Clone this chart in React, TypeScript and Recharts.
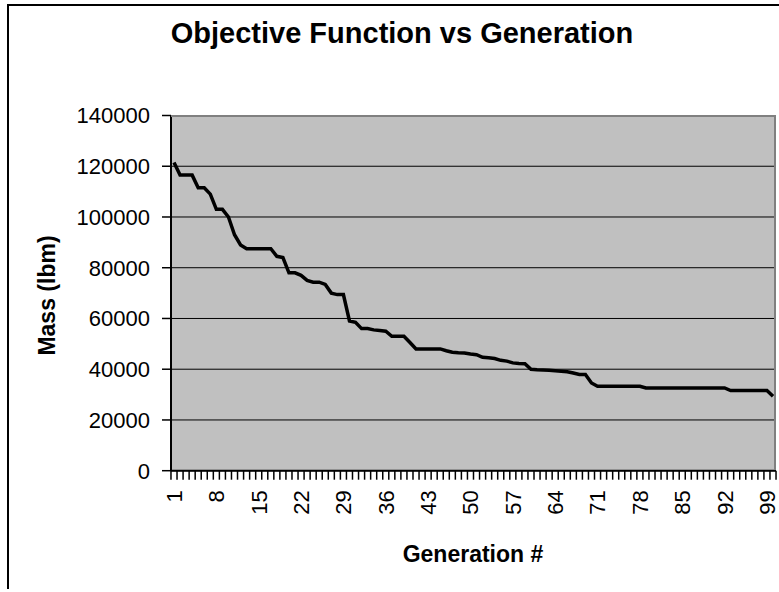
import React from 'react';
import { LineChart, Line, XAxis, YAxis, CartesianGrid } from 'recharts';

const generations = [
  1, 2, 3, 4, 5, 6, 7, 8, 9, 10, 11, 12, 13, 14, 15, 16, 17, 18, 19, 20,
  21, 22, 23, 24, 25, 26, 27, 28, 29, 30, 31, 32, 33, 34, 35, 36, 37, 38, 39, 40,
  41, 42, 43, 44, 45, 46, 47, 48, 49, 50, 51, 52, 53, 54, 55, 56, 57, 58, 59, 60,
  61, 62, 63, 64, 65, 66, 67, 68, 69, 70, 71, 72, 73, 74, 75, 76, 77, 78, 79, 80,
  81, 82, 83, 84, 85, 86, 87, 88, 89, 90, 91, 92, 93, 94, 95, 96, 97, 98, 99, 100,
];

const mass = [
  121500, 116500, 116500, 116500, 111500, 111500, 109000, 103000, 103000, 100000,
  93000, 89000, 87500, 87500, 87500, 87500, 87500, 84500, 84000, 78000,
  78000, 77000, 75000, 74300, 74300, 73400, 70000, 69400, 69400, 59000,
  58500, 56000, 56000, 55500, 55300, 55000, 53000, 53000, 53000, 50500,
  48000, 48000, 48000, 48000, 48000, 47300, 46700, 46500, 46400, 46000,
  45700, 44700, 44500, 44200, 43500, 43200, 42500, 42300, 42200, 40000,
  39800, 39700, 39600, 39400, 39200, 39000, 38500, 37900, 37900, 34600,
  33300, 33300, 33300, 33300, 33300, 33300, 33300, 33300, 32600, 32600,
  32600, 32600, 32600, 32600, 32600, 32600, 32600, 32600, 32600, 32600,
  32600, 32600, 31600, 31600, 31600, 31600, 31600, 31600, 31600, 29300,
];

const labelledGenerations = [1, 8, 15, 22, 29, 36, 43, 50, 57, 64, 71, 78, 85, 92, 99];
const massTicks = [0, 20000, 40000, 60000, 80000, 100000, 120000, 140000];

const data = generations.map((g, i) => ({ gen: g, mass: mass[i] }));

const FONT = '"Liberation Sans", Arial, sans-serif';
const W = 771;
const H = 584;
const PLOT_LEFT = 163;
const PLOT_TOP = 110.5;
const PLOT_RIGHT = 768;
const PLOT_BOTTOM = 465.7;
const PAD = 3;
const STEP = (PLOT_RIGHT - PLOT_LEFT - 2 * PAD) / (generations.length - 1);

const GenTick = (props: any) => {
  const { x, y, index, payload } = props;
  const half = STEP / 2;
  const last = index === generations.length - 1;
  const showLabel = labelledGenerations.includes(payload.value);
  return (
    <g>
      <line x1={x - half} x2={x - half} y1={y} y2={y + 9} stroke="#000" strokeWidth={1.5} />
      {last && <line x1={x + half} x2={x + half} y1={y} y2={y + 9} stroke="#000" strokeWidth={1.5} />}
      {showLabel && (
        <text
          x={x}
          y={y + 19.5}
          transform={`rotate(-90, ${x}, ${y + 19.5})`}
          textAnchor="end"
          dy="0.36em"
          fontSize={22}
          fontFamily={FONT}
          fill="#000"
        >
          {payload.value}
        </text>
      )}
    </g>
  );
};

export default function App() {
  return (
    <>
      <style>{'html, body { margin: 0; padding: 0; overflow: hidden; background: #fff; }'}</style>
      <div
        style={{
          position: 'absolute',
          left: 8,
          top: 5,
          width: W,
          height: H,
          fontFamily: FONT,
        }}
      >
        <div style={{ position: 'absolute', left: 0, top: 0 }}>
          <LineChart
            width={W}
            height={H}
            data={data}
            margin={{ top: PLOT_TOP, right: W - PLOT_RIGHT, left: 0, bottom: 0 }}
          >
            <CartesianGrid vertical={false} stroke="#000" strokeWidth={1} fill="#c0c0c0" fillOpacity={1} />
            <XAxis
              dataKey="gen"
              height={H - PLOT_BOTTOM}
              interval={0}
              padding={{ left: PAD, right: PAD }}
              tickSize={0}
              tickMargin={0}
              tickLine={false}
              axisLine={{ stroke: '#000', strokeWidth: 2 }}
              tick={<GenTick />}
            />
            <YAxis
              width={PLOT_LEFT}
              domain={[0, 140000]}
              ticks={massTicks}
              interval={0}
              tickSize={9}
              tickMargin={12}
              axisLine={{ stroke: '#000', strokeWidth: 2 }}
              tickLine={{ stroke: '#000', strokeWidth: 1.5 }}
              tick={{ fill: '#000', fontSize: 22, fontFamily: FONT }}
            />
            <Line
              type="linear"
              dataKey="mass"
              stroke="#000"
              strokeWidth={3.5}
              dot={false}
              isAnimationActive={false}
            />
          </LineChart>
        </div>
        {/* chart-area frame, only top and left edges fall inside the picture */}
        <div style={{ position: 'absolute', left: -1, top: -1, width: W + 1, height: 2, background: '#000' }} />
        <div style={{ position: 'absolute', left: -1, top: -1, width: 2, height: H + 1, background: '#000' }} />
        <div
          style={{
            position: 'absolute',
            left: PLOT_LEFT,
            top: PLOT_TOP - 1,
            width: PLOT_RIGHT - PLOT_LEFT,
            height: 2,
            background: '#808080',
          }}
        />
        <div
          style={{
            position: 'absolute',
            left: PLOT_RIGHT - 2,
            top: PLOT_TOP - 1,
            width: 2,
            height: PLOT_BOTTOM - PLOT_TOP,
            background: '#808080',
          }}
        />
        <div
          style={{
            position: 'absolute',
            left: 94,
            top: 14,
            width: 600,
            textAlign: 'center',
            fontSize: 29,
            fontWeight: 'bold',
            lineHeight: 1,
          }}
        >
          Objective Function vs Generation
        </div>
        <div
          style={{
            position: 'absolute',
            left: 365,
            top: 538,
            width: 200,
            textAlign: 'center',
            fontSize: 23,
            fontWeight: 'bold',
            lineHeight: 1,
          }}
        >
          Generation #
        </div>
        <div
          style={{
            position: 'absolute',
            left: 39 - 100,
            top: 290 - 11.5,
            width: 200,
            height: 23,
            textAlign: 'center',
            fontSize: 23,
            fontWeight: 'bold',
            lineHeight: 1,
            transform: 'rotate(-90deg)',
          }}
        >
          Mass (lbm)
        </div>
      </div>
    </>
  );
}
